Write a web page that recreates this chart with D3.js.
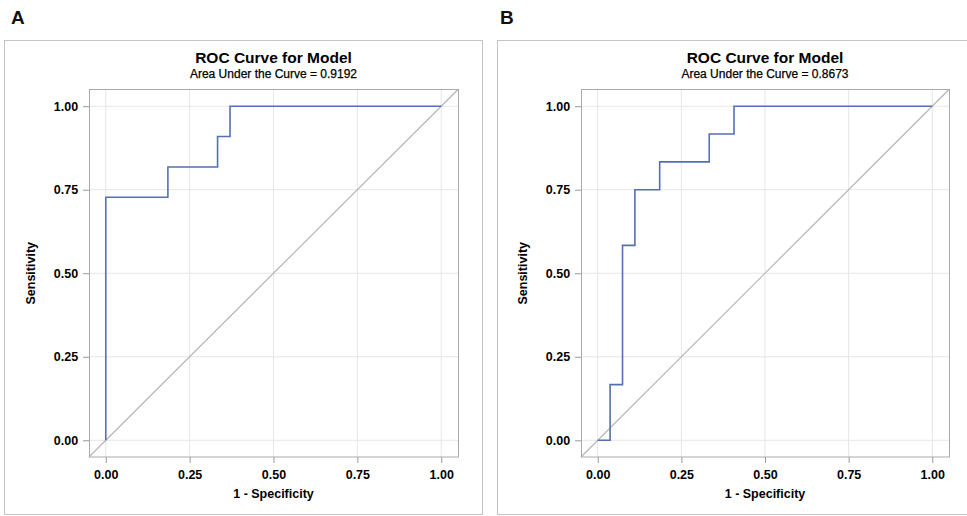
<!DOCTYPE html>
<html><head><meta charset="utf-8">
<script src="https://cdn.jsdelivr.net/npm/d3@7"></script>
<style>
body{margin:0;background:#fff;}
text{font-family:"Liberation Sans",Arial,sans-serif;}
</style></head>
<body><svg id="c" width="967" height="516"></svg>
<script>
const panelLabels = ["A","B"];
const aucLabels = ["0.9192","0.8673"];
const tickValues = [0, 0.25, 0.5, 0.75, 1];
const fprA = [0, 0, 0.1852, 0.1852, 0.3333, 0.3333, 0.3704, 0.3704, 1];
const tprA = [0, 0.7273, 0.7273, 0.8182, 0.8182, 0.9091, 0.9091, 1, 1];
const fprB = [0, 0.0370, 0.0370, 0.0741, 0.0741, 0.1111, 0.1111, 0.1852, 0.1852, 0.3333, 0.3333, 0.4074, 0.4074, 1];
const tprB = [0, 0, 0.1667, 0.1667, 0.5833, 0.5833, 0.75, 0.75, 0.8333, 0.8333, 0.9167, 0.9167, 1, 1];
const series = [{fpr: fprA, tpr: tprA}, {fpr: fprB, tpr: tprB}];

const svg = d3.select("#c");
const panels = [
  {frameX: 4, frameW: 478, plotL: 89, plotR: 458, labelX: 11},
  {frameX: 497, frameW: 475, plotL: 581, plotR: 949, labelX: 500}
];
const plotT = 89.5, plotB = 457;

panels.forEach((p, i) => {
  const g = svg.append("g");
  g.append("text").attr("x", p.labelX).attr("y", 24).attr("font-size", 19).attr("font-weight", "bold")
    .attr("fill", "#111").text(panelLabels[i]);
  g.append("rect").attr("x", p.frameX + 0.5).attr("y", 40.5).attr("width", p.frameW).attr("height", 474)
    .attr("fill", "none").attr("stroke", "#c4c4c4");
  const x = d3.scaleLinear().domain([-0.05, 1.05]).range([p.plotL, p.plotR]);
  const y = d3.scaleLinear().domain([-0.05, 1.05]).range([plotB, plotT]);
  const cx = (p.plotL + p.plotR) / 2;
  g.append("text").attr("x", cx).attr("y", 63).attr("text-anchor", "middle").attr("font-size", 15.5)
    .attr("font-weight", "bold").attr("fill", "#000").text("ROC Curve for Model");
  g.append("text").attr("x", cx).attr("y", 78).attr("text-anchor", "middle").attr("font-size", 12)
    .attr("fill", "#000").attr("stroke", "#000").attr("stroke-width", 0.25).text("Area Under the Curve = " + aucLabels[i]);
  // grid
  g.selectAll(".gx").data(tickValues).join("line")
    .attr("x1", d => x(d)).attr("x2", d => x(d)).attr("y1", plotT).attr("y2", plotB)
    .attr("stroke", "#e6e6e6");
  g.selectAll(".gy").data(tickValues).join("line")
    .attr("y1", d => y(d)).attr("y2", d => y(d)).attr("x1", p.plotL).attr("x2", p.plotR)
    .attr("stroke", "#e6e6e6");
  // axes
  const xa = g.append("g").attr("transform", `translate(0,${plotB})`)
    .call(d3.axisBottom(x).tickValues(tickValues).tickFormat(d3.format(".2f")).tickSize(6).tickSizeOuter(0));
  const ya = g.append("g").attr("transform", `translate(${p.plotL},0)`)
    .call(d3.axisLeft(y).tickValues(tickValues).tickFormat(d3.format(".2f")).tickSize(6).tickSizeOuter(0));
  [xa, ya].forEach(a => {
    a.select(".domain").remove();
    a.selectAll("line").attr("stroke", "#999");
    a.selectAll("text").attr("font-size", 12.5).attr("font-weight", "bold").attr("fill", "#000")
      .attr("font-family", "'Liberation Sans',Arial,sans-serif");
  });
  xa.selectAll("text").attr("dy", "1.05em");
  ya.selectAll("text").attr("dx", "-0.15em");
  // diagonal
  g.append("line").attr("x1", x(-0.05)).attr("y1", y(-0.05)).attr("x2", x(1.05)).attr("y2", y(1.05))
    .attr("stroke", "#b5b5b5").attr("stroke-width", 1.2);
  // curve
  const pts = series[i].fpr.map((f, k) => [f, series[i].tpr[k]]);
  g.append("path").attr("d", d3.line().x(d => x(d[0])).y(d => y(d[1]))(pts))
    .attr("fill", "none").attr("stroke", "#5470b2").attr("stroke-width", 1.6);
  // plot border
  g.append("rect").attr("x", p.plotL + 0.5).attr("y", plotT).attr("width", p.plotR - p.plotL).attr("height", plotB - plotT)
    .attr("fill", "none").attr("stroke", "#aaa");
  // axis labels
  g.append("text").attr("x", cx).attr("y", 498).attr("text-anchor", "middle").attr("font-size", 12.5)
    .attr("font-weight", "bold").attr("fill", "#000").text("1 - Specificity");
  g.append("text").attr("transform", `translate(${p.plotL - 54},${(plotT + plotB) / 2}) rotate(-90)`)
    .attr("text-anchor", "middle").attr("font-size", 12.5).attr("font-weight", "bold").attr("fill", "#000")
    .text("Sensitivity");
});
</script></body></html>
